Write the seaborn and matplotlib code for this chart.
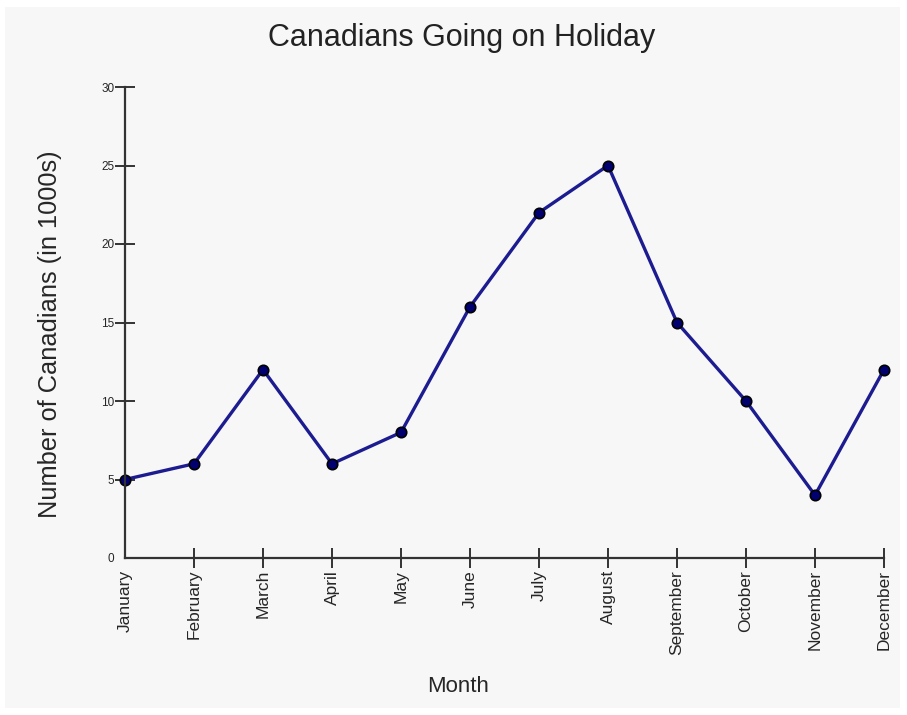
import matplotlib
matplotlib.use("Agg")
import matplotlib.pyplot as plt
import seaborn as sns
import pandas as pd
from matplotlib.patches import Rectangle

# Data
months = ["January", "February", "March", "April", "May", "June",
          "July", "August", "September", "October", "November", "December"]
holiday_counts = [5, 6, 12, 6, 8, 16, 22, 25, 15, 10, 4, 12]
y_ticks = [0, 5, 10, 15, 20, 25, 30]

df = pd.DataFrame({"Month": months, "Count": holiday_counts})

sns.set_style("white")
plt.rcParams['font.family'] = ['Liberation Sans', 'DejaVu Sans']

fig = plt.figure(figsize=(9.07, 7.15), dpi=100, facecolor="white")
# light grey panel behind everything
fig.patches.append(Rectangle((5 / 907, 7 / 715), 895 / 907, 701 / 715,
                             transform=fig.transFigure, facecolor="#f7f7f7",
                             edgecolor="none", zorder=-10))
ax = fig.add_axes([125 / 907, 1 - 558 / 715, (884 - 125) / 907, (558 - 87) / 715])
ax.set_facecolor("none")

sns.lineplot(data=df, x="Month", y="Count", ax=ax, color="#1c1c90",
             linewidth=2.4, marker="o", markersize=7.5,
             markerfacecolor="#000070", markeredgecolor="#000000",
             markeredgewidth=1.2, sort=False)

ax.set_xlim(0, 11)
ax.set_ylim(0, 30)
ax.set_yticks(y_ticks)
ax.set_yticklabels([str(t) for t in y_ticks], fontsize=8.5)
ax.set_xticks(range(len(months)))
ax.set_xticklabels(months, rotation=90, fontsize=12.5)

for side in ["top", "right"]:
    ax.spines[side].set_visible(False)
for side in ["left", "bottom"]:
    ax.spines[side].set_color("#333333")
    ax.spines[side].set_linewidth(1.6)
ax.tick_params(axis="both", bottom=True, left=True, direction="inout",
               width=1.4, color="#333333")
ax.tick_params(axis="x", length=15, pad=1)
ax.tick_params(axis="y", length=15, pad=0)
# no tick marks at the corner
ax.xaxis.get_major_ticks()[0].tick1line.set_visible(False)
ax.yaxis.get_major_ticks()[0].tick1line.set_visible(False)
for ln in ax.lines:
    ln.set_clip_on(False)

ax.set_xlabel("Month", fontsize=16)
ax.xaxis.set_label_coords((458 - 125) / (884 - 125), -(686 - 558) / (558 - 87))
ax.xaxis.label.set_va("center")
ax.set_ylabel("Number of Canadians (in 1000s)", fontsize=18.3)
ax.yaxis.set_label_coords(-(125 - 50) / (884 - 125), (558 - 334) / (558 - 87))
ax.yaxis.label.set_va("center")
fig.suptitle("Canadians Going on Holiday", fontsize=22, x=462 / 907,
             y=1 - 38 / 715, va="center", color="#222222")

fig.savefig("out.png", dpi=100, facecolor="white")
